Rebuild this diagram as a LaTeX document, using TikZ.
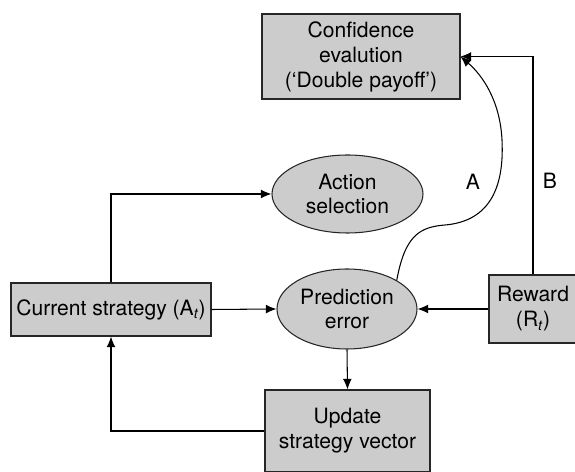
\documentclass[tikz,border=0pt]{standalone}
\usepackage{fontspec}
\setmainfont{TeX Gyre Heros}
\usetikzlibrary{positioning}
\usetikzlibrary{shapes.geometric}
\usetikzlibrary{arrows.meta}
\def\pxu{0.02cm}

\begin{document}
\begin{tikzpicture}[x=0.02cm,y=-0.02cm,
 font=\fontsize{12}{14.2}\selectfont,
 box/.style={draw=black!85,fill=black!20,line width=0.6pt,inner sep=0pt,align=center},
 oval/.style={ellipse,draw=black!85,fill=black!20,line width=0.6pt,inner sep=0pt,align=center},
 link/.style={line width=0.6pt,-{Latex[length=6pt,width=5pt]}}]
 \useasboundingbox (0,0) rectangle (575,472);
 \node[box,minimum width=198*\pxu,minimum height=85*\pxu] (conf) at (361,56.5) {Confidence\\evalution\\(`Double payoff')};
 \node[oval,minimum width=151*\pxu,minimum height=78*\pxu] (action) at (347.5,194) {Action\\selection};
 \node[oval,minimum width=140*\pxu,minimum height=80*\pxu] (pred) at (347,309) {Prediction\\error};
 \node[box,minimum width=200*\pxu,minimum height=53*\pxu] (cur) at (111,309.5) {Current strategy (A\textsubscript{\itshape t})};
 \node[box,minimum width=88*\pxu,minimum height=68*\pxu] (reward) at (533,309) {Reward\\(R\textsubscript{\itshape t})};
 \node[box,minimum width=165*\pxu,minimum height=82*\pxu] (update) at (347.5,431) {Update\\strategy vector};
 \draw[link] (cur.east) -- (pred.west);
 \draw[link] (reward.west) -- (pred.east);
 \draw[link] (pred.south) -- (update.north);
 \draw[link] (cur.north) |- (action.west);
 \draw[link] (update.west) -| (cur.south);
 \draw[link] (reward.north) |- (conf.east);
 \draw[link] (pred.30) .. controls (405,235) and (420,227) .. (445,225)
  .. controls (480,222) and (505,200) .. (502,140)
  .. controls (500,100) and (482,75) .. (conf.east);
 \node (labA) at (473,182) {A};
 \node (labB) at (550,181) {B};
\end{tikzpicture}
\end{document}
